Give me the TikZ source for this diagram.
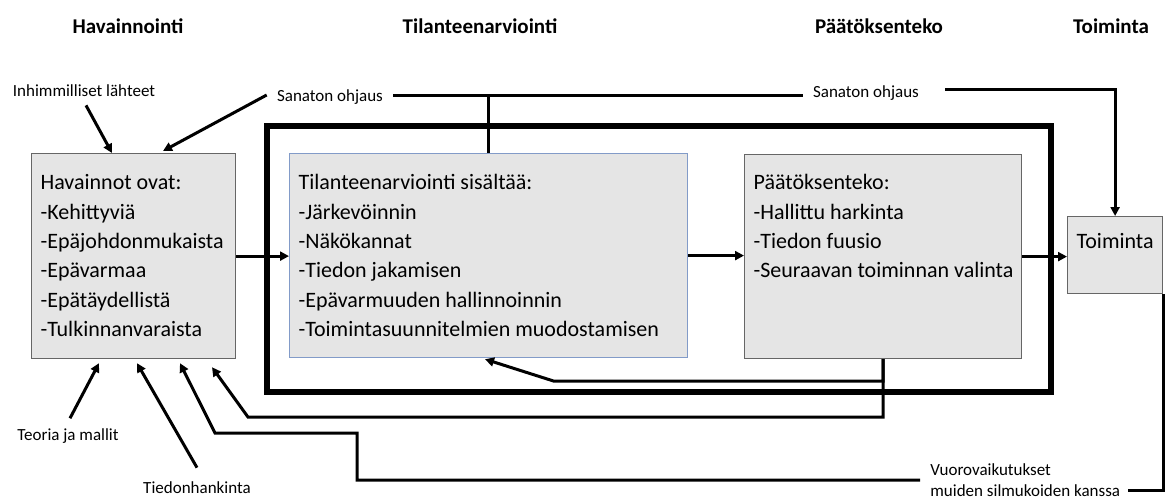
\documentclass[tikz,border=0pt]{standalone}
\usepackage{fontspec}
\setmainfont{Carlito}
\usetikzlibrary{arrows.meta,calc}
\definecolor{sinireuna}{RGB}{130,155,200}
\tikzset{
  laatikko/.style={draw=black!60,fill=black!10,line width=0.6pt,anchor=north west,
    inner xsep=4.5pt,inner ysep=0pt,align=flush left,font=\fontsize{11}{14.7}\selectfont},
  nuoli/.style={line width=1.5pt,-{Triangle[length=4.5pt,width=4.5pt]}},
  viiva/.style={line width=1.5pt},
  kehys/.style={line width=2.8pt},
  otsikko/.style={font=\fontsize{10.5}{12}\selectfont\bfseries},
  selite/.style={font=\fontsize{8.5}{10.5}\selectfont,inner sep=2pt},
}
\begin{document}
\begin{tikzpicture}[x=0.5pt,y=-0.5pt]
  \useasboundingbox (0,0) rectangle (1166,499);
  \node[otsikko] (otsHav) at (128,26) {Havainnointi};
  \node[otsikko] (otsTila) at (480,26) {Tilanteenarviointi};
  \node[otsikko] (otsPaat) at (879,26) {Päätöksenteko};
  \node[otsikko] (otsToim) at (1111,26) {Toiminta};

  \draw[kehys] (267,126) rectangle (1051,392);

  \node[laatikko,text width=93pt,text height=18pt,text depth=84.5pt] (hav) at (31,153)
    {Havainnot ovat:\\-Kehittyviä\\\mbox{-Epäjohdonmukaista}\\-Epävarmaa\\-Epätäydellistä\\-Tulkinnanvaraista};
  \node[laatikko,draw=sinireuna,text width=190pt,text height=18pt,text depth=84pt] (tila) at (289,153)
    {Tilanteenarviointi sisältää:\\-Järkevöinnin\\-Näkökannat\\-Tiedon jakamisen\\-Epävarmuuden hallinnoinnin\\-Toimintasuunnitelmien muodostamisen};
  \node[laatikko,text width=129.5pt,text height=17.5pt,text depth=84.5pt] (paat) at (744,154)
    {Päätöksenteko:\\-Hallittu harkinta\\-Tiedon fuusio\\\mbox{-Seuraavan toiminnan valinta}};
  \node[laatikko,text width=38.5pt,text height=16pt,text depth=22.5pt] (toim) at (1067,216) {\mbox{Toiminta}};

  \node[selite] (lahteet) at (84,91) {Inhimmilliset lähteet};
  \node[selite] (sanaton1) at (330,97) {Sanaton ohjaus};
  \node[selite] (sanaton2) at (866,93) {Sanaton ohjaus};
  \node[selite] (teoria) at (68,436) {Teoria ja mallit};
  \node[selite] (hankinta) at (197,488) {Tiedonhankinta};
  \node[selite,align=left,anchor=west] (vuoro) at (926,480) {Vuorovaikutukset\\muiden silmukoiden kanssa};

  \draw[nuoli] ($(lahteet.south)+(2,4)$) -- ($(hav.north west)+(81,0)$);
  \draw[nuoli] ($(sanaton1.west)+(-6,-2)$) -- ($(hav.north west)+(132,-2)$);
  \draw[viiva] ($(sanaton1.east)+(6,-2)$) -- ($(sanaton2.west)+(-6,2)$);
  \draw[viiva] (tila.north) -- ++(0,-58);
  \draw[nuoli] ($(sanaton2.east)+(22,-4)$) -| (toim.north);

  \draw[nuoli] (hav.east) -- (hav.east -| tila.west);
  \draw[nuoli] (tila.east) -- (tila.east -| paat.west);
  \draw[nuoli] (paat.east) -- (paat.east -| toim.west);

  \draw[nuoli] (paat.south) -- ++(0,22) -- ++(-329,0) -- ($(tila.south west)+(196,1)$);
  \draw[nuoli] (paat.south) -- ++(0,58) -- ++(-635,0) -- ($(hav.south west)+(181,8)$);

  \draw[nuoli] ($(teoria.north)+(2,-6)$) -- ($(hav.south west)+(68,4)$);
  \draw[nuoli] ($(hankinta.north)+(0,-10)$) -- ($(hav.south west)+(106,4)$);
  \draw[nuoli] ($(vuoro.west)+(-6,0)$) -- ++(-563,0) -- ++(0,-47) -- ++(-142,0) -- ($(hav.south west)+(149,4)$);
  \draw[viiva] (toim.south east) |- ($(vuoro.east)+(4,10)$);
\end{tikzpicture}
\end{document}
